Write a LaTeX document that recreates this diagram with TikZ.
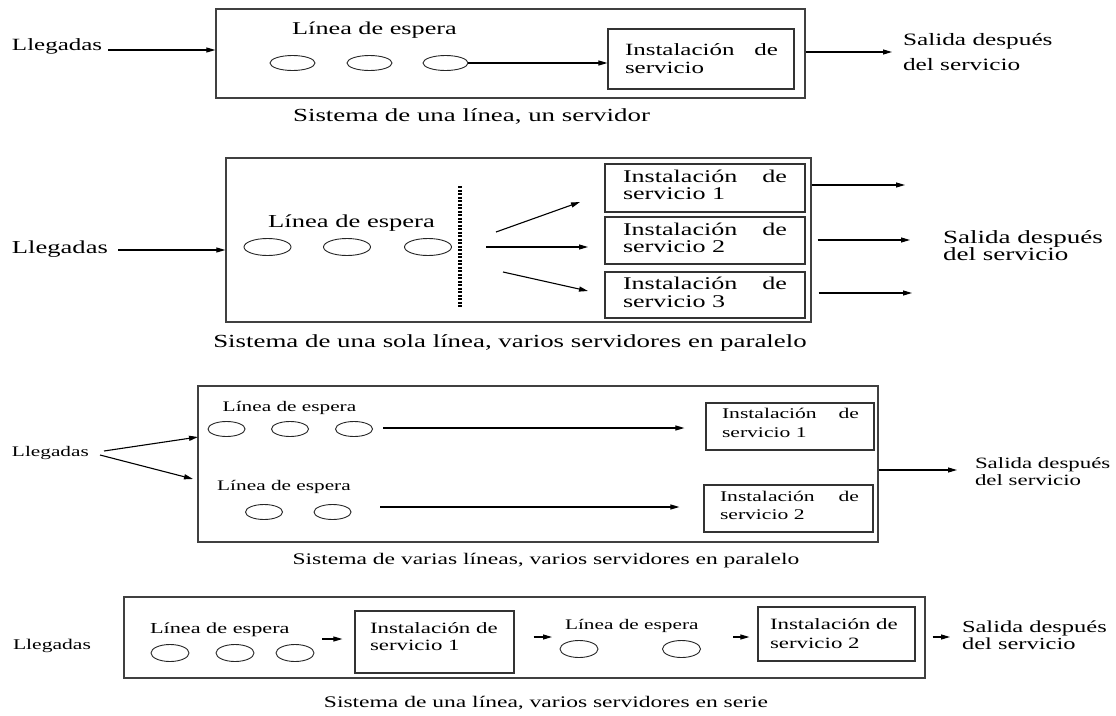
\documentclass[tikz,border=0pt]{standalone}
\usepackage{fontspec}
\setmainfont{Liberation Serif}
\usetikzlibrary{shapes.geometric,arrows.meta}

% lettering set at 10pt and scaled: #1 = size, widened horizontally
\newcommand{\tx}[2]{\scalebox{\fpeval{1.6*#1/10}}[\fpeval{1.1*#1/10}]{#2}}

\tikzset{
  txt/.style={inner sep=0pt, outer sep=0pt, font=\fontsize{10}{10}\selectfont},
  frame/.style 2 args={draw=black!75, line width=1.3pt, minimum width=#1, minimum height=#2, inner sep=0pt},
  svc/.style 2 args={draw=black!80, line width=1.2pt, minimum width=#1, minimum height=#2, inner sep=0pt},
  cust/.style 2 args={ellipse, draw=black!85, line width=0.9pt, minimum width=#1, minimum height=#2, inner sep=0pt},
  arr/.style={-{Triangle[length=9pt,width=5pt]}, line width=1.1pt},
  bar/.style={line width=4pt, dash pattern=on 2.2pt off 1.3pt}
}

\begin{document}
\begin{tikzpicture}[x=1pt,y=-1pt]
\fill[white] (0,0) rectangle (1116,715);
\useasboundingbox (0,0) rectangle (1116,715);

% ---------- Sistema de una línea, un servidor ----------
\node[frame={589}{89}] (b1) at (510.5,53.5) {};
\node[txt, anchor=base west] (ll1) at (12,50) {\tx{15.6}{Llegadas}};
\coordinate (a1) at (108,50);
\draw[arr] (a1) -- (a1 -| b1.west);
\node[txt, anchor=base] (w1) at (374.5,34) {\tx{16.4}{Línea de espera}};
\node[cust={45}{15}] (c11) at (292.5,63) {};
\node[cust={45}{15}] (c12) at (369.5,63) {};
\node[cust={45}{15}] (c13) at (445.5,63) {};
\node[svc={186}{60}] (s1) at (701,59) {};
\node[txt, anchor=base west] (s1a) at (625,55) {\tx{15.6}{Instalación}};
\node[txt, anchor=base east] (s1b) at (778,55) {\tx{15.6}{de}};
\node[txt, anchor=base west] (s1c) at (625,73) {\tx{15.6}{servicio}};
\draw[arr] (c13.east) -- (c13.east -| s1.west);
\coordinate (o1) at (892,52);
\draw[arr] (o1 -| b1.east) -- (o1);
\node[txt, anchor=base west] (out1a) at (903,45) {\tx{15.8}{Salida después}};
\node[txt, anchor=base west] (out1b) at (903,70) {\tx{15.8}{del servicio}};
\node[txt, anchor=base] (cap1) at (471.5,121) {\tx{16.8}{Sistema de una línea, un servidor}};

% ---------- Sistema de una sola línea, varios servidores en paralelo ----------
\node[frame={585}{164}] (b2) at (518.5,240) {};
\node[txt, anchor=base west] (ll2) at (12,253) {\tx{16.6}{Llegadas}};
\coordinate (a2) at (118,250);
\draw[arr] (a2) -- (a2 -| b2.west);
\node[txt, anchor=base] (w2) at (351.5,227) {\tx{16.6}{Línea de espera}};
\node[cust={47}{17}] (c21) at (267.5,247) {};
\node[cust={47}{17}] (c22) at (347,247) {};
\node[cust={47}{17}] (c23) at (428,247) {};
\draw[bar] (460,186) -- (460,307);
\node[svc={200}{48}] (s21) at (705,188) {};
\node[svc={200}{47}] (s22) at (705,240.5) {};
\node[svc={200}{46}] (s23) at (705,295) {};
\coordinate (d1) at (496,232);
\coordinate (d2) at (486,247);
\coordinate (d3) at (503,272);
\coordinate (e1) at (580,202);
\coordinate (e2) at (588,247);
\coordinate (e3) at (588,291);
\draw[arr] (d1) -- (e1);
\draw[arr] (d2) -- (e2);
\draw[arr] (d3) -- (e3);
\node[txt, anchor=base west] (s21a) at (623,182) {\tx{16.3}{Instalación}};
\node[txt, anchor=base east] (s21b) at (787,182) {\tx{16.3}{de}};
\node[txt, anchor=base west] (s21c) at (623,199) {\tx{16.3}{servicio 1}};
\node[txt, anchor=base west] (s22a) at (623,235) {\tx{16.3}{Instalación}};
\node[txt, anchor=base east] (s22b) at (787,235) {\tx{16.3}{de}};
\node[txt, anchor=base west] (s22c) at (623,252) {\tx{16.3}{servicio 2}};
\node[txt, anchor=base west] (s23a) at (623,289) {\tx{16.3}{Instalación}};
\node[txt, anchor=base east] (s23b) at (787,289) {\tx{16.3}{de}};
\node[txt, anchor=base west] (s23c) at (623,307) {\tx{16.3}{servicio 3}};
\coordinate (f1) at (905,185);
\coordinate (f2) at (910,240);
\coordinate (f3) at (912,293);
\draw[arr] (f1 -| b2.east) -- (f1);
\draw[arr] ([xshift=6pt]f2 -| b2.east) -- (f2);
\draw[arr] ([xshift=7pt]f3 -| b2.east) -- (f3);
\node[txt, anchor=base west] (out2a) at (943,243) {\tx{16.9}{Salida después}};
\node[txt, anchor=base west] (out2b) at (943,260) {\tx{16.9}{del servicio}};
\node[txt, anchor=base] (cap2) at (510,347) {\tx{16.8}{Sistema de una sola línea, varios servidores en paralelo}};

% ---------- Sistema de varias líneas, varios servidores en paralelo ----------
\node[frame={680}{156}] (b3) at (538,464) {};
\node[txt, anchor=base west] (ll3) at (12,456) {\tx{13.3}{Llegadas}};
\coordinate (g1) at (104,451);
\coordinate (g2) at (100,455);
\coordinate (h1) at (198,437);
\coordinate (h2) at (193,479);
\draw[arr] (g1) -- (h1);
\draw[arr] (g2) -- (h2);
\node[txt, anchor=base] (w3a) at (289.5,411) {\tx{13.3}{Línea de espera}};
\node[txt, anchor=base] (w3b) at (284,490) {\tx{13.3}{Línea de espera}};
\node[cust={37}{15}] (c31) at (226.5,429) {};
\node[cust={37}{15}] (c32) at (290,429) {};
\node[cust={37}{15}] (c33) at (354,429) {};
\node[cust={37}{15}] (c34) at (264,512) {};
\node[cust={37}{15}] (c35) at (332.5,512) {};
\node[svc={168}{47}] (s31) at (790,426.5) {};
\node[svc={169}{47}] (s32) at (788.5,508.5) {};
\coordinate (k1) at (383,428);
\coordinate (k2) at (380,507);
\draw[arr] (k1) -- ([xshift=-21pt]k1 -| s31.west);
\draw[arr] (k2) -- ([xshift=-24pt]k2 -| s32.west);
\node[txt, anchor=base west] (s31a) at (722,418) {\tx{13.5}{Instalación}};
\node[txt, anchor=base east] (s31b) at (859,418) {\tx{13.5}{de}};
\node[txt, anchor=base west] (s31c) at (722,437) {\tx{13.5}{servicio 1}};
\node[txt, anchor=base west] (s32a) at (720,501) {\tx{13.5}{Instalación}};
\node[txt, anchor=base east] (s32b) at (859,501) {\tx{13.5}{de}};
\node[txt, anchor=base west] (s32c) at (720,519) {\tx{13.5}{servicio 2}};
\coordinate (o3) at (957,470);
\draw[arr] (o3 -| b3.east) -- (o3);
\node[txt, anchor=base west] (out3a) at (975,468) {\tx{14.3}{Salida después}};
\node[txt, anchor=base west] (out3b) at (975,485) {\tx{14.3}{del servicio}};
\node[txt, anchor=base] (cap3) at (546,564) {\tx{14.7}{Sistema de varias líneas, varios servidores en paralelo}};

% ---------- Sistema de una línea, varios servidores en serie ----------
\node[frame={801}{81}] (b4) at (524.5,637.5) {};
\node[txt, anchor=base west] (ll4) at (13,649) {\tx{13.5}{Llegadas}};
\node[txt, anchor=base west] (w4a) at (150,633) {\tx{13.9}{Línea de espera}};
\node[cust={38}{17}] (c41) at (170,653) {};
\node[cust={38}{17}] (c42) at (235,653) {};
\node[cust={38}{17}] (c43) at (295,653) {};
\node[svc={159}{62}] (s41) at (434.5,642) {};
\node[txt, anchor=base west] (s41a) at (370,633) {\tx{14.3}{Instalación de}};
\node[txt, anchor=base west] (s41b) at (370,650) {\tx{14.3}{servicio 1}};
\coordinate (p1) at (322,639);
\draw[arr] (p1) -- ([xshift=-12pt]p1 -| s41.west);
\coordinate (p2) at (552,637);
\draw[arr] ([xshift=19pt]p2 -| s41.east) -- (p2);
\node[txt, anchor=base west] (w4b) at (565,629) {\tx{13.3}{Línea de espera}};
\node[cust={38}{17}] (c44) at (579,649) {};
\node[cust={38}{17}] (c45) at (681.5,649) {};
\node[svc={157}{54}] (s42) at (836.5,634) {};
\node[txt, anchor=base west] (s42a) at (770,629) {\tx{14.3}{Instalación de}};
\node[txt, anchor=base west] (s42b) at (770,648) {\tx{14.3}{servicio 2}};
\coordinate (p3) at (733,637);
\draw[arr] (p3) -- ([xshift=-8pt]p3 -| s42.west);
\coordinate (p4) at (950,637);
\draw[arr] ([xshift=7pt]p4 -| b4.east) -- (p4);
\node[txt, anchor=base west] (out4a) at (962,632) {\tx{15.3}{Salida después}};
\node[txt, anchor=base west] (out4b) at (962,649) {\tx{15.3}{del servicio}};
\node[txt, anchor=base] (cap4) at (546,707) {\tx{14.7}{Sistema de una línea, varios servidores en serie}};
\end{tikzpicture}
\end{document}
